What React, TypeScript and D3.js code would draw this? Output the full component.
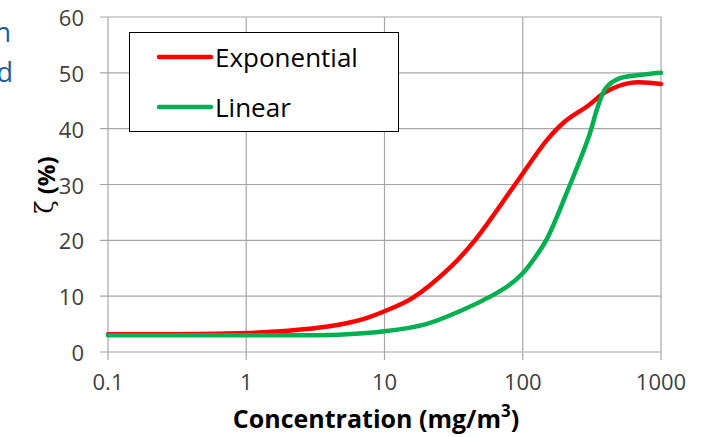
import React, { useEffect, useRef } from 'react';
import * as d3 from 'd3';

// concentration (mg/m3) and zeta (%)
const expConc = [0.1, 0.3, 1, 2, 4, 7, 10, 16, 30, 45, 88, 150, 200, 300, 400, 600, 1000];
const expZeta = [3.2, 3.2, 3.4, 3.8, 4.6, 5.9, 7.3, 9.7, 15.2, 20, 30, 38, 41.2, 44.2, 46.6, 48.2, 48];

const linConc = [0.1, 0.5, 2, 5, 10, 20, 35, 60, 80, 100, 125, 150, 220, 300, 350, 400, 500, 700, 1000];
const linZeta = [3.0, 3.0, 3.0, 3.15, 3.7, 5.0, 7.3, 10.1, 12.0, 14.1, 17.2, 20.3, 30, 38.5, 44, 47.3, 49, 49.6, 50];

const xTicks = [0.1, 1, 10, 100, 1000];
const xTickLabels = ['0.1', '1', '10', '100', '1000'];
const yTicks = [0, 10, 20, 30, 40, 50, 60];

const seriesNames = ['Exponential', 'Linear'];
const seriesColors = ['#ff0000', '#00b050'];

const App = () => {
  const svgRef = useRef(null);

  useEffect(() => {
    const svg = d3.select(svgRef.current);
    svg.selectAll('*').remove();

    const left = 108, right = 661, top = 17, bottom = 352;
    const font = "'Open Sans', sans-serif";

    const x = d3.scaleLog().domain([0.1, 1000]).range([left, right]);
    const y = d3.scaleLinear().domain([0, 60]).range([bottom, top]);

    // cut-off text at the left edge (as in the source slide)
    svg.append('text').attr('x', 11).attr('y', 31).attr('text-anchor', 'end')
      .attr('dominant-baseline', 'central').style('font-family', font).style('font-size', '27px')
      .style('fill', '#1c5aa6').text('n');
    svg.append('text').attr('x', 13).attr('y', 71).attr('text-anchor', 'end')
      .attr('dominant-baseline', 'central').style('font-family', font).style('font-size', '27px')
      .style('fill', '#1c5aa6').text('d');

    // grid
    const grid = svg.append('g');
    yTicks.forEach(t => {
      grid.append('line').attr('x1', left - 8).attr('x2', right)
        .attr('y1', y(t)).attr('y2', y(t))
        .attr('stroke', '#a6a6a6').attr('stroke-width', 1.2);
    });
    xTicks.forEach(t => {
      grid.append('line').attr('x1', x(t)).attr('x2', x(t))
        .attr('y1', top).attr('y2', bottom + 8)
        .attr('stroke', '#a6a6a6').attr('stroke-width', 1.2);
    });

    // tick labels
    yTicks.forEach(t => {
      svg.append('text').attr('x', 84).attr('y', y(t))
        .attr('text-anchor', 'end').attr('dominant-baseline', 'central')
        .style('font-family', font).style('font-size', '22px').style('fill', '#404040')
        .text(t);
    });
    xTicks.forEach((t, i) => {
      svg.append('text').attr('x', x(t)).attr('y', 381)
        .attr('text-anchor', 'middle').attr('dominant-baseline', 'central')
        .style('font-family', font).style('font-size', '22px').style('fill', '#404040')
        .text(xTickLabels[i]);
    });

    // axis titles
    const xt = svg.append('text').attr('x', 376).attr('y', 418)
      .attr('text-anchor', 'middle').attr('dominant-baseline', 'central')
      .style('font-family', font).style('font-size', '25px').style('font-weight', 'bold')
      .style('fill', '#000');
    xt.append('tspan').text('Concentration (mg/m');
    xt.append('tspan').attr('dy', -8).style('font-size', '17px').text('3');
    xt.append('tspan').attr('dy', 8).text(')');

    const yt = svg.append('text').attr('transform', 'translate(45,185) rotate(-90)')
      .attr('text-anchor', 'middle').attr('dominant-baseline', 'central')
      .style('font-family', font).style('font-size', '24px').style('font-weight', 'bold')
      .style('fill', '#000');
    yt.append('tspan').style('font-family', "'DejaVu Serif', serif").style('font-weight', 'normal').text('ζ');
    yt.append('tspan').text(' (%)');

    // curves
    const line = d3.line()
      .x(d => x(d[0]))
      .y(d => y(d[1]))
      .curve(d3.curveCatmullRom.alpha(0.5));

    const expData = expConc.map((c, i) => [c, expZeta[i]]);
    const linData = linConc.map((c, i) => [c, linZeta[i]]);

    svg.append('path').datum(expData).attr('d', line)
      .attr('fill', 'none').attr('stroke', seriesColors[0]).attr('stroke-width', 4.5)
      .attr('stroke-linecap', 'round');
    svg.append('path').datum(linData).attr('d', line)
      .attr('fill', 'none').attr('stroke', seriesColors[1]).attr('stroke-width', 4.5)
      .attr('stroke-linecap', 'round');

    // legend
    const legend = svg.append('g');
    legend.append('rect').attr('x', 129.5).attr('y', 32.5).attr('width', 269).attr('height', 99)
      .attr('fill', '#fff').attr('stroke', '#000').attr('stroke-width', 1);
    seriesNames.forEach((name, i) => {
      const ly = 57 + i * 50;
      legend.append('line').attr('x1', 159).attr('x2', 211).attr('y1', ly).attr('y2', ly)
        .attr('stroke', seriesColors[i]).attr('stroke-width', 4.5).attr('stroke-linecap', 'round');
      legend.append('text').attr('x', 215).attr('y', ly)
        .attr('dominant-baseline', 'central')
        .style('font-family', font).style('font-size', '26px').style('fill', '#000')
        .text(name);
    });
  }, []);

  return (
    <svg ref={svgRef} width={708} height={437}
      style={{ position: 'absolute', left: 0, top: 0, background: '#fff' }} />
  );
};

export default App;
